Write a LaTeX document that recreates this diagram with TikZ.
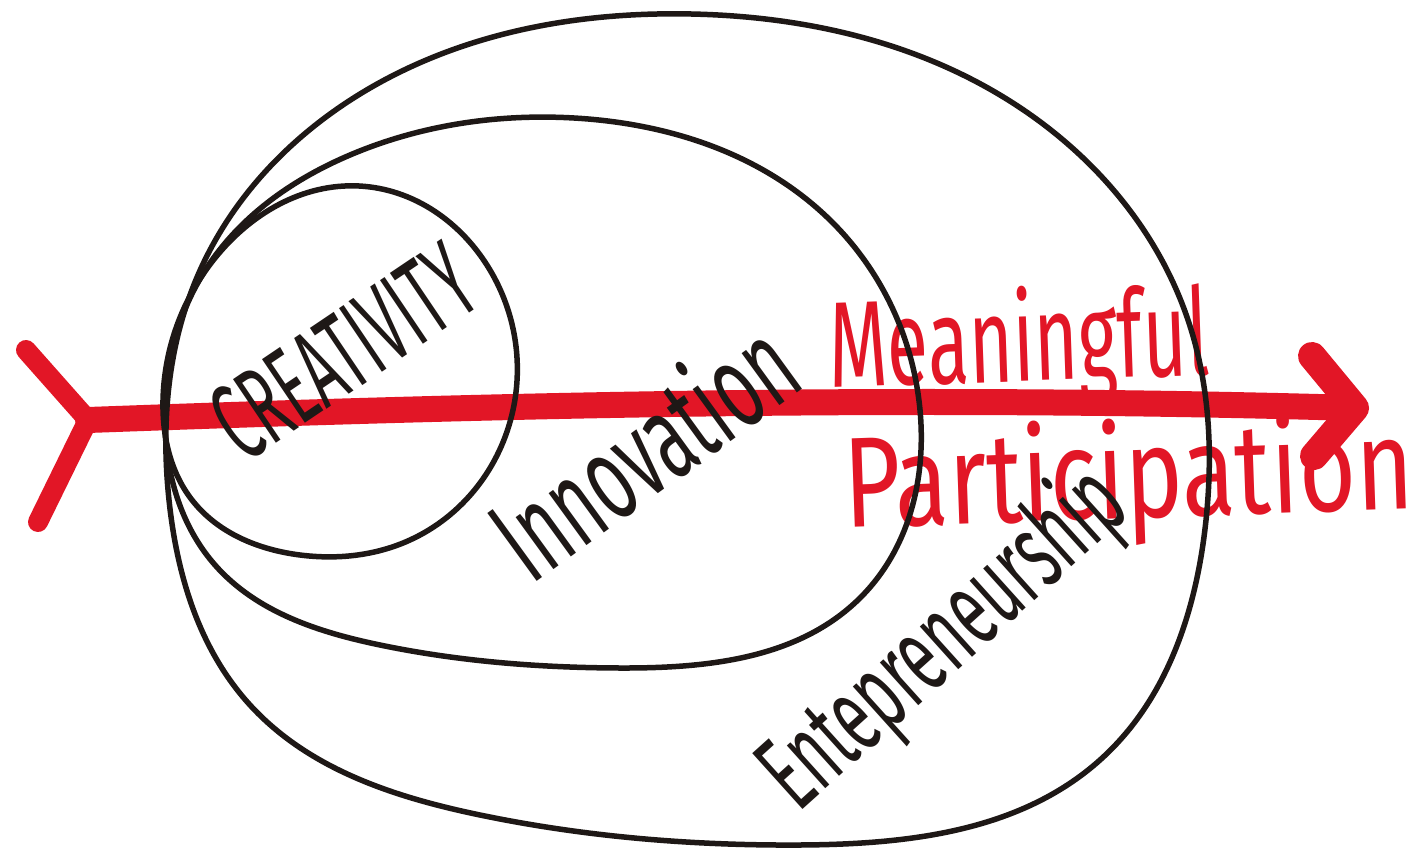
\documentclass[tikz,border=0pt]{standalone}
\usepackage{fontspec}
\usetikzlibrary{hobby}
\setmainfont{Fira Sans}
\definecolor{mred}{RGB}{226,22,38}
\definecolor{ink}{RGB}{30,24,22}
\begin{document}
\begin{tikzpicture}[x=1pt,y=-1pt, line cap=round, line join=round,
  loopline/.style={draw=ink, line width=5.5pt, use Hobby shortcut, closed=true},
  marker/.style={draw=mred, line width=26pt},
  lbl/.style={inner sep=0pt, text=ink},
  rlbl/.style={inner sep=0pt, text=mred}]
\useasboundingbox[fill=white] (0,0) rectangle (1421,856);
% red arrow
\coordinate (tail) at (88,420);
\coordinate (tip) at (1355,408);
\coordinate (fu) at (26,350);
\coordinate (fd) at (38,522);
\coordinate (hu) at (1312,356);
\coordinate (hd) at (1314,456);
\draw[marker] (tail) .. controls (500,405) and (900,395) .. (tip);
\draw[mred, line width=20pt] (fu) -- (tail) -- (fd);
\draw[mred, line width=28pt] (hu) -- (tip) -- (hd);
% red labels
\node[rlbl, anchor=base west, rotate=2] (mean) at (830,388) {\resizebox{380pt}{95pt}{Meaningful}};
\node[rlbl, anchor=base west, rotate=2] (part) at (845,528) {\resizebox{570pt}{100pt}{Participation}};
% black loops
\draw[loopline] (691,14) .. (1000,95) .. (1188,320) .. (1206,520) .. (1100,760) .. (800,845) .. (480,815) .. (250,705) .. (169,500) .. (198,275) .. (400,72);
\draw[loopline] (574,118) .. (830,220) .. (920,410) .. (860,598) .. (620,668) .. (380,645) .. (215,565) .. (165,430) .. (210,263) .. (350,155);
\draw[loopline] (359,186) .. (490,270) .. (513,410) .. (410,540) .. (300,555) .. (192,500) .. (163,400) .. (215,258);
% black labels
\node[lbl, rotate=34] (creat) at (343,352) {\resizebox{290pt}{78pt}{CREATIVITY}};
\node[lbl, rotate=36] (innov) at (642,448) {\resizebox{340pt}{95pt}{Innovation}};
\node[lbl, rotate=42] (entre) at (945,640) {\resizebox{450pt}{85pt}{Entepreneurship}};
\end{tikzpicture}
\end{document}
